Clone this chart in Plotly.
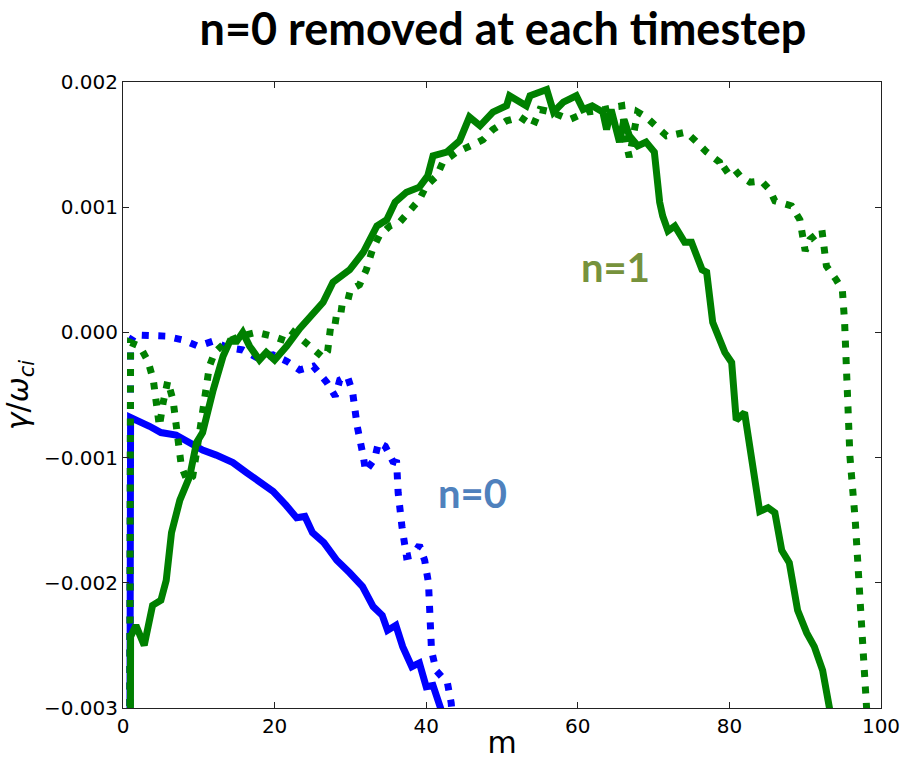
import plotly.graph_objects as go

# Growth rate gamma/omega_ci versus poloidal mode number m
# n=0 curves (blue) and n=1 curves (green); solid and dotted runs

m_n0_solid = [0, 1, 3.5, 5, 7, 8.8, 10.5, 12.3, 14.5, 16.3, 17.6, 19.8, 21.5, 22.9, 24, 25,
              26.5, 28.2, 29.9, 31.6, 33, 34.2, 34.9, 36, 36.9, 38.1, 39.1, 40, 40.9, 42, 43]
g_n0_solid = [-0.030, -0.00068, -0.00075, -0.0008, -0.00082, -0.00088, -0.00094, -0.00098,
              -0.00104, -0.00112, -0.00118, -0.00127, -0.00138, -0.00148, -0.00147, -0.0016,
              -0.00168, -0.00182, -0.00192, -0.00203, -0.00219, -0.00226, -0.00238, -0.00234,
              -0.00251, -0.00267, -0.00264, -0.00283, -0.00282, -0.0030, -0.0032]

m_n0_dot = [0, 1, 1.5, 3.5, 5.7, 7.9, 9.9, 11.9, 13.7, 15.8, 17.6, 19.8, 21.6, 23.3, 25.1,
            26.9, 28.0, 28.6, 29.6, 30.3, 30.9, 31.7, 32.0, 33.2, 33.7, 34.6, 35.6, 36.1,
            36.3, 36.8, 37.4, 38.2, 39.1, 39.8, 40.3, 40.5, 40.7, 41.3, 42.8, 43.3, 43.6]
g_n0_dot = [-0.030, -0.00007, -0.00002, -0.00003, -0.00003, -0.00006, -0.00011, -0.00007,
            -0.00012, -0.00014, -0.0002, -0.00018, -0.00023, -0.0003, -0.00027, -0.0004,
            -0.00051, -0.00038, -0.00035, -0.00048, -0.00075, -0.00099, -0.00111, -0.00101,
            -0.00088, -0.00091, -0.00103, -0.00104, -0.00128, -0.00155, -0.00179, -0.00178,
            -0.0017, -0.00182, -0.002, -0.00227, -0.00254, -0.0027, -0.0028, -0.00296, -0.0032]

m_n1_solid = [0, 1, 1.7, 2.8, 3.9, 5, 5.7, 6.4, 7.5, 8.8, 9.7, 10.5, 11.9, 13.2, 14.1, 15,
              15.8, 16.7, 18, 18.9, 20, 21.6, 23.3, 25.1, 26.4, 27.7, 29.9, 31.7, 33.5, 34.8,
              35.9, 37.4, 39.1, 40.2, 40.9, 42.7, 44.4, 45.7, 47.1, 48.8, 50.6, 51, 52.4,
              53.2, 53.7, 55.9, 56.8, 58.1, 59.8, 60.7, 61.9, 63.3, 63.8, 64.4, 65.5, 66.1,
              66.8, 67.9, 69, 70.1, 70.8, 71.2, 71.9, 72.8, 74.1, 75, 76.4, 77, 77.8, 79.4,
              80.3, 80.9, 82, 83.1, 84, 85.1, 86, 86.9, 87.9, 89, 90.2, 91.2, 92.3, 93.2, 93.6]
g_n1_solid = [-0.030, -0.00243, -0.00234, -0.0025, -0.00218, -0.00214, -0.00198, -0.0016,
              -0.00134, -0.00115, -0.00088, -0.0008, -0.00046, -0.00019, -0.00007, -0.00007,
              0.0, -0.00011, -0.00022, -0.00016, -0.00022, -0.00011, 0.00003, 0.00016, 0.00024,
              0.0004, 0.0005, 0.00064, 0.00085, 0.0009, 0.00104, 0.00112, 0.00116, 0.00125,
              0.00141, 0.00144, 0.00153, 0.00172, 0.00165, 0.00176, 0.00181, 0.00189, 0.00184,
              0.00181, 0.00189, 0.00194, 0.00176, 0.00184, 0.00189, 0.00178, 0.00181, 0.00176,
              0.00162, 0.00178, 0.00152, 0.0017, 0.00157, 0.00149, 0.00152, 0.00144, 0.00104,
              0.00093, 0.00081, 0.00085, 0.00072, 0.00072, 0.0005, 0.00048, 0.00008, -0.00016,
              -0.00024, -0.0007, -0.00064, -0.0011, -0.00143, -0.0014, -0.00144, -0.00174,
              -0.00184, -0.00222, -0.0024, -0.00251, -0.0027, -0.0030, -0.0032]

m_n1_dot = [0, 1, 2.2, 3.3, 4, 4.8, 5.3, 5.9, 6.6, 7.2, 7.7, 8.5, 9.2, 9.9, 10.6, 11.4, 12.1,
            13.5, 15.5, 17.6, 19.7, 21.6, 22.5, 24.9, 26.4, 27.0, 27.5, 28.6, 28.9, 29.6,
            30.0, 31.2, 32.1, 32.9, 33.8, 35.2, 36.5, 37.8, 39.1, 40, 41.4, 42.2, 44, 46.2,
            47.5, 48.8, 50.6, 52.4, 54.1, 55, 56.5, 58.9, 61.2, 63.5, 65.8, 66.4, 66.8, 67.9,
            69, 70.1, 71.7, 72.8, 74.3, 75.7, 77, 78.7, 79.1, 80.3, 81.4, 82.7, 84.2, 85.3,
            86, 88.2, 89.3, 90, 90.6, 92.2, 92.8, 94.1, 94.9, 95.2, 95.6, 95.9, 96.6, 97.2,
            97.6, 98.1, 98.3]
g_n1_dot = [-0.030, -0.00008, -0.00011, -0.00023, -0.00038, -0.00075, -0.00056, -0.00039,
            -0.00054, -0.0008, -0.00107, -0.00119, -0.00115, -0.00088, -0.00059, -0.00027,
            -0.00016, -0.00008, -0.00003, 0.0, -0.00003, -0.00007, 0.0, -0.00012, -0.0002,
            -0.00015, 0.0001, 0.00009, 0.00022, 0.00024, 0.00034, 0.00038, 0.0005, 0.00066,
            0.00077, 0.00085, 0.00088, 0.00097, 0.00106, 0.00117, 0.00125, 0.00136, 0.00144,
            0.0015, 0.00154, 0.00162, 0.00169, 0.00172, 0.00165, 0.00178, 0.00176, 0.0017,
            0.00176, 0.00178, 0.00181, 0.0015, 0.0014, 0.00176, 0.00172, 0.00166, 0.00157,
            0.00158, 0.0016, 0.00152, 0.00144, 0.00136, 0.00128, 0.00133, 0.00125, 0.0012,
            0.00121, 0.00114, 0.00105, 0.00101, 0.0009, 0.00065, 0.00074, 0.00082, 0.00053,
            0.00042, 0.00034, 0.00008, -0.00046, -0.00099, -0.0015, -0.00203, -0.0025,
            -0.00294, -0.0032]

y_ticks = [-0.003, -0.002, -0.001, 0.0, 0.001, 0.002]
y_tick_text = ["\u22120.003", "\u22120.002", "\u22120.001", "0.000", "0.001", "0.002"]
x_ticks = [0, 20, 40, 60, 80, 100]

BLUE = "#0000ff"
GREEN = "#008000"
LW = 7
DOT = "7px,9.5px"

fig = go.Figure()
fig.add_trace(go.Scatter(x=m_n0_solid, y=g_n0_solid, mode="lines",
                         line=dict(color=BLUE, width=LW)))
fig.add_trace(go.Scatter(x=m_n0_dot, y=g_n0_dot, mode="lines",
                         line=dict(color=BLUE, width=LW, dash=DOT)))
fig.add_trace(go.Scatter(x=m_n1_solid, y=g_n1_solid, mode="lines",
                         line=dict(color=GREEN, width=LW)))
fig.add_trace(go.Scatter(x=m_n1_dot, y=g_n1_dot, mode="lines",
                         line=dict(color=GREEN, width=LW, dash=DOT)))

fig.add_annotation(x=65, y=0.00052, text="<b>n=1</b>", showarrow=False,
                   font=dict(family="Lato", size=40, color="#76923C"))
fig.add_annotation(x=46.1, y=-0.00128, text="<b>n=0</b>", showarrow=False,
                   font=dict(family="Lato", size=40, color="#4F81BD"))

axis_common = dict(showline=True, linecolor="#222222", linewidth=1, mirror="ticks",
                   ticks="inside", ticklen=6, tickcolor="#222222", showgrid=False,
                   zeroline=False, automargin=False,
                   tickfont=dict(family="DejaVu Sans", size=20, color="black"))

fig.update_xaxes(range=[0, 100], tickvals=x_ticks,
                 title=dict(text="m", font=dict(family="DejaVu Sans", size=30, color="black"),
                            standoff=2),
                 **axis_common)
fig.update_yaxes(range=[-0.003, 0.002], tickvals=y_ticks, ticktext=y_tick_text,
                 title=dict(text="<i>γ</i>/<i>ω</i><sub><i>ci</i></sub>",
                            font=dict(family="DejaVu Sans", size=30, color="black"),
                            standoff=6),
                 **axis_common)

fig.update_layout(
    width=903, height=760,
    margin=dict(l=123, r=22, t=82, b=52),
    paper_bgcolor="white", plot_bgcolor="white",
    showlegend=False,
    title=dict(text="<b>n=0 removed at each timestep</b>", x=0.557, xanchor="center",
               y=0.962, yanchor="middle",
               font=dict(family="Lato", size=45, color="black")),
)

fig.write_html("out.html")
